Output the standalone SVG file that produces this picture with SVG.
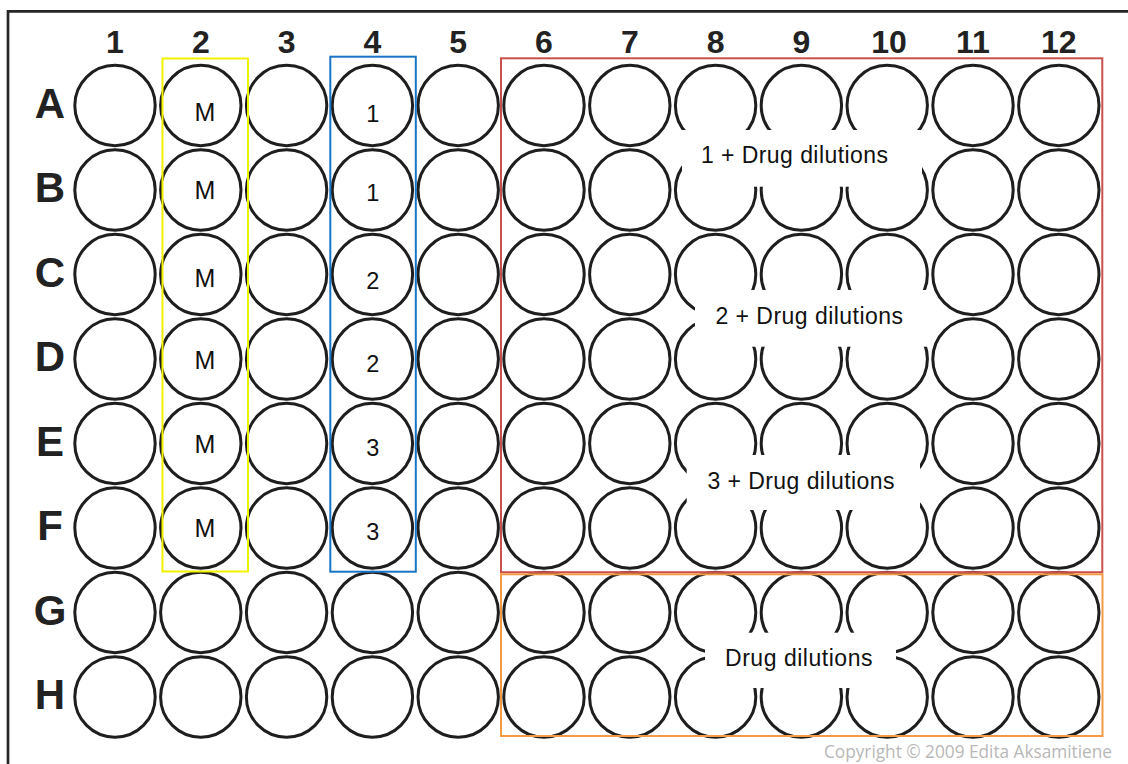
<svg xmlns="http://www.w3.org/2000/svg" width="1128" height="764" viewBox="0 0 1128 764">
<style>
.w{fill:#fff;stroke:#1e1e1e;stroke-width:3}
.col{font-family:"Liberation Sans",Arial,sans-serif;font-weight:bold;font-size:32px;fill:#222;text-anchor:middle}
.row{font-family:"Liberation Sans",Arial,sans-serif;font-weight:bold;font-size:42px;fill:#222;text-anchor:middle}
.m{font-family:"Liberation Sans",Arial,sans-serif;font-size:25px;fill:#111;text-anchor:middle}
.n{font-family:"Liberation Sans",Arial,sans-serif;font-size:23.5px;fill:#111;text-anchor:middle}
.lab{font-family:"Liberation Sans",Arial,sans-serif;font-size:23px;fill:#111}
.box{fill:none;stroke-width:2}
.wb{fill:#fff}
</style>
<rect width="1128" height="764" fill="#fff"/>
<path d="M8,764 V11.3 H1128" fill="none" stroke="#262626" stroke-width="2.7"/>
<g id="column-labels">
<text class="col" x="115" y="53">1</text>
<text class="col" x="200.8" y="53">2</text>
<text class="col" x="286.6" y="53">3</text>
<text class="col" x="372.4" y="53">4</text>
<text class="col" x="458.2" y="53">5</text>
<text class="col" x="544" y="53">6</text>
<text class="col" x="629.8" y="53">7</text>
<text class="col" x="715.6" y="53">8</text>
<text class="col" x="801.4" y="53">9</text>
<text class="col" x="889" y="53">10</text>
<text class="col" x="973" y="53">11</text>
<text class="col" x="1058.8" y="53">12</text>
</g>
<g id="row-labels">
<text class="row" x="50" y="117.5">A</text>
<text class="row" x="50" y="202">B</text>
<text class="row" x="50" y="286.5">C</text>
<text class="row" x="50" y="371">D</text>
<text class="row" x="50" y="455.5">E</text>
<text class="row" x="50" y="540">F</text>
<text class="row" x="50" y="624.5">G</text>
<text class="row" x="50" y="709">H</text>
</g>
<g id="wells">
<g id="row-A">
<g id="A1"><circle class="w" cx="115" cy="105.5" r="40.2"/></g>
<g id="A2"><circle class="w" cx="200.8" cy="105.5" r="40.2"/></g>
<g id="A3"><circle class="w" cx="286.6" cy="105.5" r="40.2"/></g>
<g id="A4"><circle class="w" cx="372.4" cy="105.5" r="40.2"/></g>
<g id="A5"><circle class="w" cx="458.2" cy="105.5" r="40.2"/></g>
<g id="A6"><circle class="w" cx="544" cy="105.5" r="40.2"/></g>
<g id="A7"><circle class="w" cx="629.8" cy="105.5" r="40.2"/></g>
<g id="A8"><circle class="w" cx="715.6" cy="105.5" r="40.2"/></g>
<g id="A9"><circle class="w" cx="801.4" cy="105.5" r="40.2"/></g>
<g id="A10"><circle class="w" cx="887.2" cy="105.5" r="40.2"/></g>
<g id="A11"><circle class="w" cx="973" cy="105.5" r="40.2"/></g>
<g id="A12"><circle class="w" cx="1058.8" cy="105.5" r="40.2"/></g>
</g>
<g id="row-B">
<g id="B1"><circle class="w" cx="115" cy="190" r="40.2"/></g>
<g id="B2"><circle class="w" cx="200.8" cy="190" r="40.2"/></g>
<g id="B3"><circle class="w" cx="286.6" cy="190" r="40.2"/></g>
<g id="B4"><circle class="w" cx="372.4" cy="190" r="40.2"/></g>
<g id="B5"><circle class="w" cx="458.2" cy="190" r="40.2"/></g>
<g id="B6"><circle class="w" cx="544" cy="190" r="40.2"/></g>
<g id="B7"><circle class="w" cx="629.8" cy="190" r="40.2"/></g>
<g id="B8"><circle class="w" cx="715.6" cy="190" r="40.2"/></g>
<g id="B9"><circle class="w" cx="801.4" cy="190" r="40.2"/></g>
<g id="B10"><circle class="w" cx="887.2" cy="190" r="40.2"/></g>
<g id="B11"><circle class="w" cx="973" cy="190" r="40.2"/></g>
<g id="B12"><circle class="w" cx="1058.8" cy="190" r="40.2"/></g>
</g>
<g id="row-C">
<g id="C1"><circle class="w" cx="115" cy="274.5" r="40.2"/></g>
<g id="C2"><circle class="w" cx="200.8" cy="274.5" r="40.2"/></g>
<g id="C3"><circle class="w" cx="286.6" cy="274.5" r="40.2"/></g>
<g id="C4"><circle class="w" cx="372.4" cy="274.5" r="40.2"/></g>
<g id="C5"><circle class="w" cx="458.2" cy="274.5" r="40.2"/></g>
<g id="C6"><circle class="w" cx="544" cy="274.5" r="40.2"/></g>
<g id="C7"><circle class="w" cx="629.8" cy="274.5" r="40.2"/></g>
<g id="C8"><circle class="w" cx="715.6" cy="274.5" r="40.2"/></g>
<g id="C9"><circle class="w" cx="801.4" cy="274.5" r="40.2"/></g>
<g id="C10"><circle class="w" cx="887.2" cy="274.5" r="40.2"/></g>
<g id="C11"><circle class="w" cx="973" cy="274.5" r="40.2"/></g>
<g id="C12"><circle class="w" cx="1058.8" cy="274.5" r="40.2"/></g>
</g>
<g id="row-D">
<g id="D1"><circle class="w" cx="115" cy="359" r="40.2"/></g>
<g id="D2"><circle class="w" cx="200.8" cy="359" r="40.2"/></g>
<g id="D3"><circle class="w" cx="286.6" cy="359" r="40.2"/></g>
<g id="D4"><circle class="w" cx="372.4" cy="359" r="40.2"/></g>
<g id="D5"><circle class="w" cx="458.2" cy="359" r="40.2"/></g>
<g id="D6"><circle class="w" cx="544" cy="359" r="40.2"/></g>
<g id="D7"><circle class="w" cx="629.8" cy="359" r="40.2"/></g>
<g id="D8"><circle class="w" cx="715.6" cy="359" r="40.2"/></g>
<g id="D9"><circle class="w" cx="801.4" cy="359" r="40.2"/></g>
<g id="D10"><circle class="w" cx="887.2" cy="359" r="40.2"/></g>
<g id="D11"><circle class="w" cx="973" cy="359" r="40.2"/></g>
<g id="D12"><circle class="w" cx="1058.8" cy="359" r="40.2"/></g>
</g>
<g id="row-E">
<g id="E1"><circle class="w" cx="115" cy="443.5" r="40.2"/></g>
<g id="E2"><circle class="w" cx="200.8" cy="443.5" r="40.2"/></g>
<g id="E3"><circle class="w" cx="286.6" cy="443.5" r="40.2"/></g>
<g id="E4"><circle class="w" cx="372.4" cy="443.5" r="40.2"/></g>
<g id="E5"><circle class="w" cx="458.2" cy="443.5" r="40.2"/></g>
<g id="E6"><circle class="w" cx="544" cy="443.5" r="40.2"/></g>
<g id="E7"><circle class="w" cx="629.8" cy="443.5" r="40.2"/></g>
<g id="E8"><circle class="w" cx="715.6" cy="443.5" r="40.2"/></g>
<g id="E9"><circle class="w" cx="801.4" cy="443.5" r="40.2"/></g>
<g id="E10"><circle class="w" cx="887.2" cy="443.5" r="40.2"/></g>
<g id="E11"><circle class="w" cx="973" cy="443.5" r="40.2"/></g>
<g id="E12"><circle class="w" cx="1058.8" cy="443.5" r="40.2"/></g>
</g>
<g id="row-F">
<g id="F1"><circle class="w" cx="115" cy="528" r="40.2"/></g>
<g id="F2"><circle class="w" cx="200.8" cy="528" r="40.2"/></g>
<g id="F3"><circle class="w" cx="286.6" cy="528" r="40.2"/></g>
<g id="F4"><circle class="w" cx="372.4" cy="528" r="40.2"/></g>
<g id="F5"><circle class="w" cx="458.2" cy="528" r="40.2"/></g>
<g id="F6"><circle class="w" cx="544" cy="528" r="40.2"/></g>
<g id="F7"><circle class="w" cx="629.8" cy="528" r="40.2"/></g>
<g id="F8"><circle class="w" cx="715.6" cy="528" r="40.2"/></g>
<g id="F9"><circle class="w" cx="801.4" cy="528" r="40.2"/></g>
<g id="F10"><circle class="w" cx="887.2" cy="528" r="40.2"/></g>
<g id="F11"><circle class="w" cx="973" cy="528" r="40.2"/></g>
<g id="F12"><circle class="w" cx="1058.8" cy="528" r="40.2"/></g>
</g>
<g id="row-G">
<g id="G1"><circle class="w" cx="115" cy="612.5" r="40.2"/></g>
<g id="G2"><circle class="w" cx="200.8" cy="612.5" r="40.2"/></g>
<g id="G3"><circle class="w" cx="286.6" cy="612.5" r="40.2"/></g>
<g id="G4"><circle class="w" cx="372.4" cy="612.5" r="40.2"/></g>
<g id="G5"><circle class="w" cx="458.2" cy="612.5" r="40.2"/></g>
<g id="G6"><circle class="w" cx="544" cy="612.5" r="40.2"/></g>
<g id="G7"><circle class="w" cx="629.8" cy="612.5" r="40.2"/></g>
<g id="G8"><circle class="w" cx="715.6" cy="612.5" r="40.2"/></g>
<g id="G9"><circle class="w" cx="801.4" cy="612.5" r="40.2"/></g>
<g id="G10"><circle class="w" cx="887.2" cy="612.5" r="40.2"/></g>
<g id="G11"><circle class="w" cx="973" cy="612.5" r="40.2"/></g>
<g id="G12"><circle class="w" cx="1058.8" cy="612.5" r="40.2"/></g>
</g>
<g id="row-H">
<g id="H1"><circle class="w" cx="115" cy="697" r="40.2"/></g>
<g id="H2"><circle class="w" cx="200.8" cy="697" r="40.2"/></g>
<g id="H3"><circle class="w" cx="286.6" cy="697" r="40.2"/></g>
<g id="H4"><circle class="w" cx="372.4" cy="697" r="40.2"/></g>
<g id="H5"><circle class="w" cx="458.2" cy="697" r="40.2"/></g>
<g id="H6"><circle class="w" cx="544" cy="697" r="40.2"/></g>
<g id="H7"><circle class="w" cx="629.8" cy="697" r="40.2"/></g>
<g id="H8"><circle class="w" cx="715.6" cy="697" r="40.2"/></g>
<g id="H9"><circle class="w" cx="801.4" cy="697" r="40.2"/></g>
<g id="H10"><circle class="w" cx="887.2" cy="697" r="40.2"/></g>
<g id="H11"><circle class="w" cx="973" cy="697" r="40.2"/></g>
<g id="H12"><circle class="w" cx="1058.8" cy="697" r="40.2"/></g>
</g>
</g>
<g id="well-texts">
<text class="m" x="205" y="120.7">M</text>
<text class="m" x="205" y="199.3">M</text>
<text class="m" x="205" y="287.3">M</text>
<text class="m" x="205" y="369.3">M</text>
<text class="m" x="205" y="452.7">M</text>
<text class="m" x="205" y="537.3">M</text>
<text class="n" x="372.7" y="121.7">1</text>
<text class="n" x="372.7" y="201.3">1</text>
<text class="n" x="372.7" y="289.3">2</text>
<text class="n" x="372.7" y="371.7">2</text>
<text class="n" x="372.7" y="456">3</text>
<text class="n" x="372.7" y="540">3</text>
</g>
<g id="regions">
<rect id="media-column" class="box" x="162.5" y="58.5" width="85.5" height="513" stroke="#f2f200"/>
<rect id="control-column" class="box" x="330.3" y="56.7" width="85.5" height="515" stroke="#1a74c6"/>
<rect id="combination-area" class="box" x="501" y="58.3" width="601.3" height="513.9" stroke="#c9504f"/>
<rect id="drug-only-area" class="box" x="501" y="574.3" width="601.5" height="161.7" stroke="#f39a45"/>
</g>
<g id="label-1">
<rect class="wb" x="682" y="130" width="240" height="56.7"/>
<text class="lab" x="701" y="162.7" textLength="187" lengthAdjust="spacing">1 + Drug dilutions</text>
</g>
<g id="label-2">
<rect class="wb" x="695" y="290" width="233" height="56.7"/>
<text class="lab" x="715.5" y="324" textLength="187.5" lengthAdjust="spacing">2 + Drug dilutions</text>
</g>
<g id="label-3">
<rect class="wb" x="686.7" y="455" width="233.3" height="55"/>
<text class="lab" x="707.5" y="489" textLength="187" lengthAdjust="spacing">3 + Drug dilutions</text>
</g>
<g id="label-4">
<rect class="wb" x="705" y="632.7" width="191" height="55.3"/>
<text class="lab" x="725" y="666" textLength="147.5" lengthAdjust="spacing">Drug dilutions</text>
</g>
<text x="824" y="758" font-family="'Open Sans','DejaVu Sans',sans-serif" font-size="17.5" fill="#b8b8b8" textLength="288" lengthAdjust="spacingAndGlyphs">Copyright © 2009 Edita Aksamitiene</text>
</svg>
